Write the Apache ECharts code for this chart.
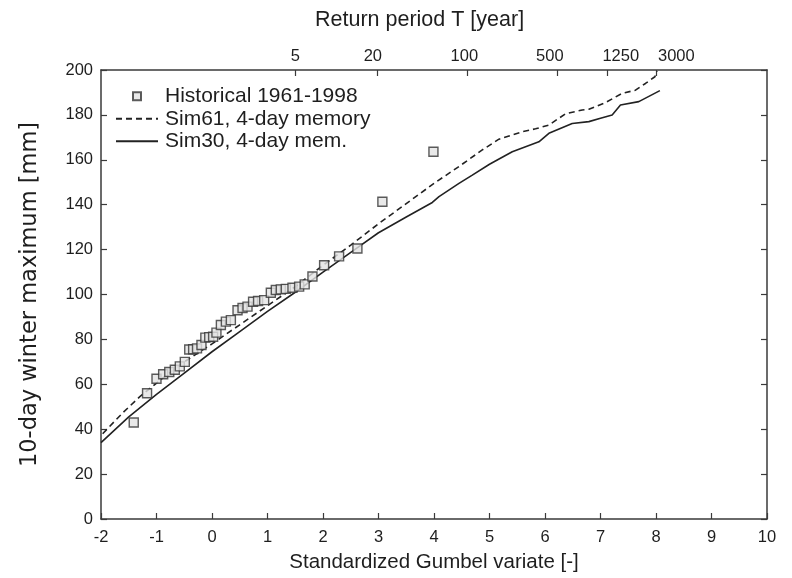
<!DOCTYPE html>
<html>
<head>
<meta charset="utf-8">
<script src="https://cdn.jsdelivr.net/npm/echarts@6/dist/echarts.min.js"></script>
<style>html,body{margin:0;padding:0;background:#fff}#c{width:792px;height:578px}</style>
</head>
<body>
<div id="c"></div>
<script>
// Historical annual 10-day winter maxima, 1961-1998: [Gumbel variate, mm]
const historical = [
  [-1.41, 43], [-1.17, 56], [-1.00, 62.5], [-0.88, 64.5], [-0.77, 65.5], [-0.67, 66.5],
  [-0.58, 68], [-0.49, 70], [-0.41, 75.5], [-0.34, 75.6], [-0.27, 76], [-0.19, 77.5],
  [-0.12, 80.8], [-0.05, 81], [0.02, 81.2], [0.08, 83], [0.16, 86.4], [0.25, 87.9],
  [0.34, 88.6], [0.46, 93], [0.55, 94], [0.64, 94.6], [0.74, 96.8], [0.83, 97.1],
  [0.94, 97.5], [1.06, 100.8], [1.15, 102], [1.24, 102.3], [1.33, 102.5], [1.45, 103],
  [1.57, 103.5], [1.67, 104.5], [1.81, 108], [2.02, 113], [2.29, 117], [2.62, 120.5],
  [3.07, 141.3], [3.99, 163.6]
];
// Sim61, 4-day memory (dashed)
const sim61 = [
  [-1.97, 38], [-1.6, 47.5], [-1.3, 54.5], [-0.9, 62.5], [-0.5, 70], [0, 78], [0.5, 86.5],
  [1.0, 95], [1.5, 103.5], [2.0, 113], [2.5, 122], [3.0, 131.5], [3.5, 140.5],
  [4.0, 149.5], [4.45, 157], [4.87, 164.4], [5.17, 169.2], [5.59, 172.5], [5.83, 173.8],
  [6.07, 175.5], [6.37, 180.5], [6.67, 182.2], [6.79, 182.5], [7.09, 185.5], [7.39, 189.6],
  [7.63, 191], [7.81, 194], [7.98, 197], [8.02, 199.5]
];
// Sim30, 4-day memory (solid)
const sim30 = [
  [-2, 34], [-1.5, 45.5], [-1.0, 55.5], [-0.5, 65], [0, 74.5], [0.5, 83.5], [1.0, 92.5],
  [1.5, 101], [2.0, 110], [2.59, 120.3], [3.0, 127.5], [3.5, 134.5], [3.97, 141],
  [4.09, 143.6], [4.45, 149.5], [4.69, 153.2], [5.0, 158], [5.41, 163.6], [5.89, 168],
  [6.07, 171.8], [6.49, 176.2], [6.79, 177], [7.0, 178.5], [7.21, 180], [7.36, 184.4],
  [7.69, 185.9], [8.07, 190.8]
];
// Top axis: return periods (years)
const returnPeriods = [5, 20, 100, 500, 1250, 3000];
const xTicks = [-2, -1, 0, 1, 2, 3, 4, 5, 6, 7, 8, 9, 10];
const yTicks = [0, 20, 40, 60, 80, 100, 120, 140, 160, 180, 200];

const gumbel = T => -Math.log(-Math.log(1 - 1 / T));
const rpValues = returnPeriods.map(gumbel);

const FONT = 'Liberation Sans';
const AX = '#3a3a3a';
const TXT = '#1e1e1e';
const TICKFS = 16.5;
const chart = echarts.init(document.getElementById('c'), null, {renderer: 'canvas'});

const rpShift = {5: 0, 20: -4, 100: -3, 500: -7, 1250: 13, 3000: 20};
const rich = {};
returnPeriods.forEach(T => {
  const s = rpShift[T];
  rich['t' + T] = {fontFamily: FONT, fontSize: TICKFS, color: TXT,
    padding: s >= 0 ? [0, 0, 0, 2 * s] : [0, -2 * s, 0, 0]};
});

chart.setOption({
  animation: false,
  backgroundColor: '#fff',
  title: {
    text: 'Return period T [year]', left: 310, top: 4,
    textStyle: {fontFamily: FONT, fontSize: 21.5, fontWeight: 'normal', color: TXT}
  },
  legend: {
    orient: 'vertical', left: 110, top: 80, itemWidth: 42, itemHeight: 8, itemGap: 0,
    textStyle: {fontFamily: FONT, fontSize: 21, color: TXT, lineHeight: 22.5, padding: [0, 0, 0, 2]},
    data: [
      {name: 'Historical 1961-1998', icon: 'path://M0,0H10V10H0Z'},
      {name: 'Sim61, 4-day memory', itemStyle: {opacity: 0}},
      {name: 'Sim30, 4-day mem.', itemStyle: {opacity: 0}}
    ]
  },
  grid: {left: 101, right: 25, top: 70, bottom: 59, containLabel: false, outerBoundsMode: 'none'},
  xAxis: [{
    type: 'value', position: 'bottom', min: xTicks[0], max: xTicks[xTicks.length - 1], interval: 1,
    name: 'Standardized Gumbel variate [-]', nameLocation: 'middle', nameGap: 33,
    nameTextStyle: {fontFamily: FONT, fontSize: 20.5, color: TXT},
    axisLine: {show: true, onZero: false, lineStyle: {color: AX, width: 1.5}},
    axisTick: {show: true, inside: true, length: 6, lineStyle: {color: AX, width: 1.2}},
    axisLabel: {fontFamily: FONT, fontSize: TICKFS, color: TXT, margin: 10},
    splitLine: {show: false}
  }, {
    type: 'value', position: 'top', min: xTicks[0], max: xTicks[xTicks.length - 1],
    axisLine: {show: true, onZero: false, lineStyle: {color: AX, width: 1.5}},
    axisTick: {show: true, inside: true, length: 6, customValues: rpValues, lineStyle: {color: AX, width: 1.2}},
    axisLabel: {
      show: true, customValues: rpValues, margin: 5,
      formatter: v => {
        let best = 0;
        rpValues.forEach((g, i) => { if (Math.abs(g - v) < Math.abs(rpValues[best] - v)) best = i; });
        const T = returnPeriods[best];
        return '{t' + T + '|' + T + '}';
      },
      rich: rich
    },
    splitLine: {show: false}
  }],
  yAxis: [{
    type: 'value', position: 'left', min: yTicks[0], max: yTicks[yTicks.length - 1], interval: 20,
    name: '10-day winter maximum [mm]', nameLocation: 'middle', nameGap: 59, nameRotate: 90,
    nameTextStyle: {fontFamily: 'DejaVu Sans', fontSize: 22.5, color: TXT},
    axisLine: {show: true, onZero: false, lineStyle: {color: AX, width: 1.5}},
    axisTick: {show: true, inside: true, length: 6, lineStyle: {color: AX, width: 1.2}},
    axisLabel: {fontFamily: FONT, fontSize: TICKFS, color: TXT, margin: 8},
    splitLine: {show: false}
  }, {
    type: 'value', position: 'right', min: yTicks[0], max: yTicks[yTicks.length - 1], interval: 20,
    axisLine: {show: true, onZero: false, lineStyle: {color: AX, width: 1.5}},
    axisTick: {show: true, inside: true, length: 6, lineStyle: {color: AX, width: 1.2}},
    axisLabel: {show: false},
    splitLine: {show: false}
  }],
  series: [{
    name: 'Sim61, 4-day memory', type: 'line', data: sim61, showSymbol: false, symbol: 'none',
    lineStyle: {color: '#222', width: 1.6, type: [6, 4]}, itemStyle: {color: '#222'}, z: 2
  }, {
    name: 'Sim30, 4-day mem.', type: 'line', data: sim30, showSymbol: false, symbol: 'none',
    lineStyle: {color: '#222', width: 1.6}, itemStyle: {color: '#222'}, z: 2
  }, {
    name: 'Historical 1961-1998', type: 'scatter', data: historical, symbol: 'rect', symbolSize: 9,
    itemStyle: {color: '#e4e4e4', borderColor: '#333', borderWidth: 1.4}, z: 3
  }]
});
</script>
</body>
</html>
